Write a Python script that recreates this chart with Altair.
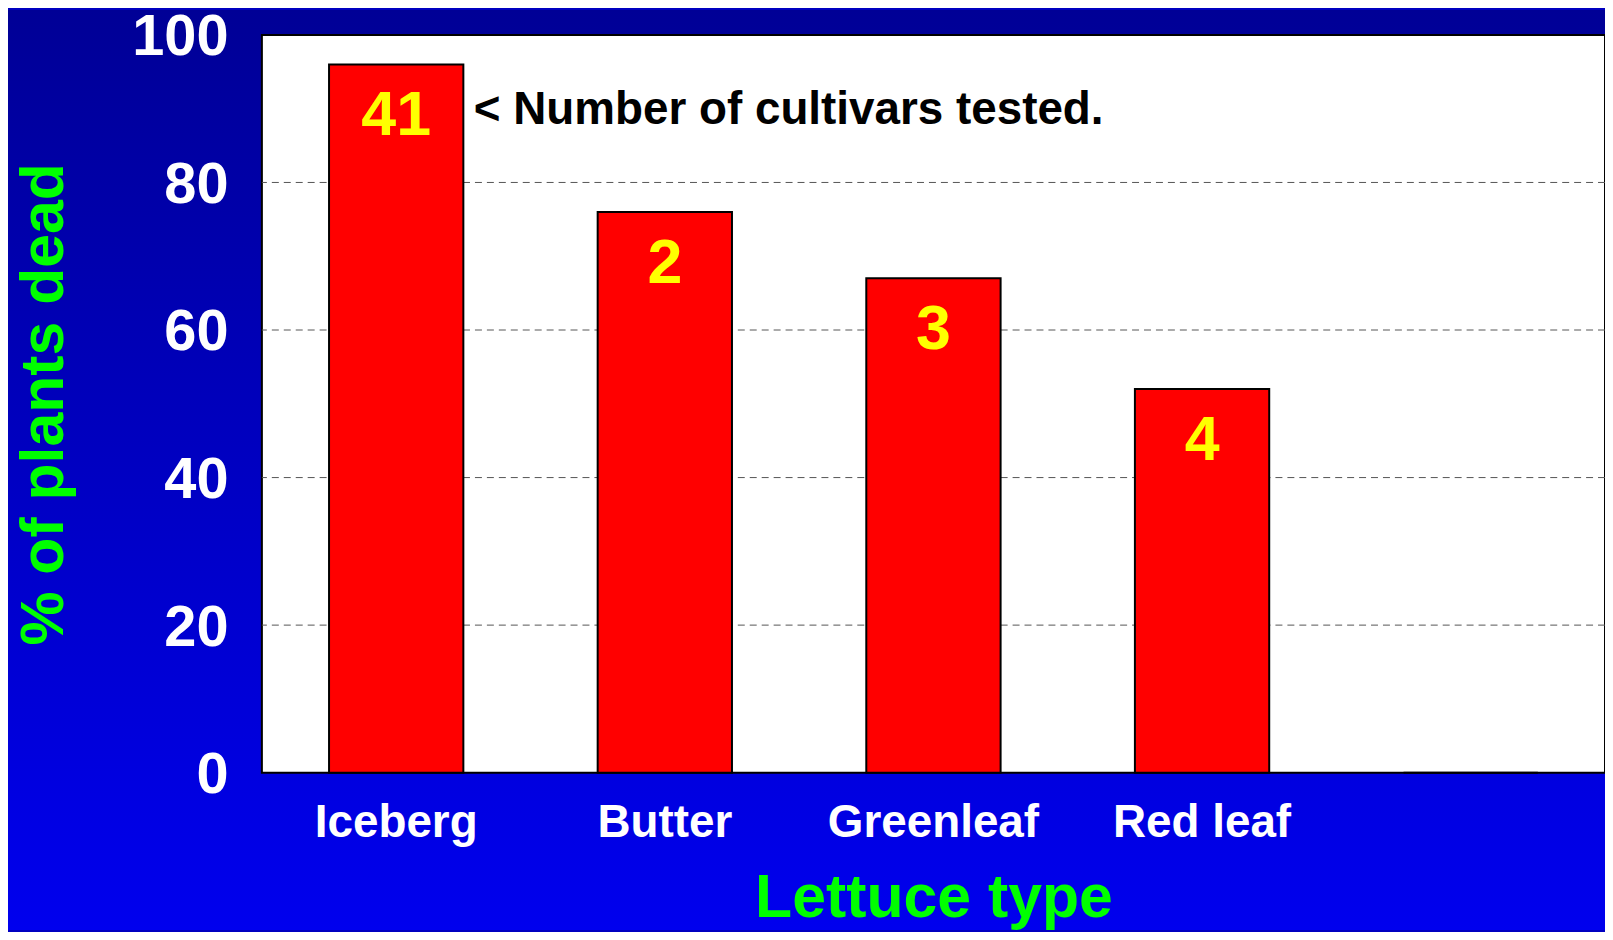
import altair as alt
import pandas as pd

# ---- data ----
categories = ["Iceberg", "Butter", "Greenleaf", "Red leaf", " "]
pct_dead = [96, 76, 67, 52, 0]
n_cultivars = ["41", "2", "3", "4", ""]
y_ticks = [0, 20, 40, 60, 80, 100]
grid_values = [20, 40, 60, 80]
note_text = "< Number of cultivars tested."

# ---- layout ----
W, H = 1349, 741
PAD = {"left": 255, "top": 25, "right": 0, "bottom": 158}
FONT = "Liberation Sans"

df = pd.DataFrame({"type": categories, "pct": pct_dead, "n": n_cultivars})
grid_df = pd.DataFrame({"g": grid_values})
one = pd.DataFrame({"a": [0]})

x_enc = alt.X(
    "type:N",
    sort=categories,
    scale=alt.Scale(paddingInner=0.5, paddingOuter=0.25),
    axis=alt.Axis(
        title="Lettuce type",
        labelAngle=0,
        labelFont=FONT, labelFontSize=46, labelFontWeight="bold",
        labelColor="white", labelPadding=28, labelLimit=0,
        titleFont=FONT, titleFontSize=61, titleFontWeight="bold",
        titleColor="#00FF00", titleY=96, titleBaseline="top",
        ticks=False, tickSize=0, domain=False, grid=False, zindex=1,
    ),
)
y_enc = alt.Y(
    "pct:Q",
    scale=alt.Scale(domain=[0, 100], nice=False),
    axis=alt.Axis(
        title="% of plants dead",
        values=y_ticks,
        labelFont=FONT, labelFontSize=58, labelFontWeight="bold",
        labelColor="white", labelPadding=34, labelLimit=0, labelOffset=3,
        titleFont=FONT, titleFontSize=61, titleFontWeight="bold",
        titleColor="#00FF00", titleX=-187,
        ticks=False, tickSize=0, domain=False, grid=False, zindex=1,
    ),
)

background = alt.Chart(one).mark_rect(
    fill=alt.Gradient(
        gradient="linear", x1=0, y1=0, x2=0, y2=1,
        stops=[alt.GradientStop(offset=0, color="#000096"),
               alt.GradientStop(offset=1, color="#0000EE")],
    )
).encode(
    x=alt.value(-PAD["left"]), x2=alt.value(W + PAD["right"]),
    y=alt.value(-PAD["top"]), y2=alt.value(H + PAD["bottom"]),
)

frame = alt.Chart(one).mark_rect(fill="white", stroke="black", strokeWidth=2).encode(
    x=alt.value(0), x2=alt.value(W), y=alt.value(0), y2=alt.value(H)
)

grid = alt.Chart(grid_df).mark_rule(
    color="#555555", strokeWidth=1, strokeDash=[7, 5]
).encode(y=alt.Y("g:Q"))

bars = alt.Chart(df).mark_bar(color="#FF0000", stroke="black", strokeWidth=2).encode(
    x=x_enc, y=y_enc
)

numbers = alt.Chart(df).transform_filter("datum.n != ''").mark_text(
    baseline="top", dy=21, font=FONT, fontSize=63, fontWeight="bold", color="#FFFF00"
).encode(x=alt.X("type:N", sort=categories), y=alt.Y("pct:Q"), text="n:N")

note = alt.Chart(df.iloc[[0]]).mark_text(
    align="left", baseline="alphabetic", dx=78, dy=60,
    font=FONT, fontSize=46, fontWeight="bold", color="black", text=note_text
).encode(x=alt.X("type:N", sort=categories), y=alt.Y("pct:Q"))

chart = alt.layer(background, frame, grid, bars, numbers, note).properties(
    width=W, height=H,
    padding=PAD,
    autosize=alt.AutoSizeParams(type="none"),
    background="#0000C0",
).configure_view(strokeWidth=0)

chart.save("out.html", embed_options={"renderer": "svg", "actions": False})
